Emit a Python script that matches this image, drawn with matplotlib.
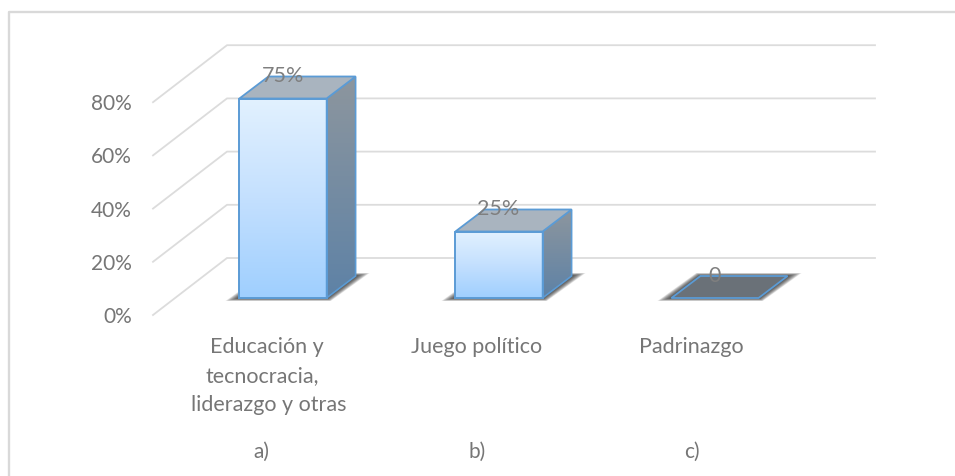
import numpy as np
import matplotlib
matplotlib.use("Agg")
import matplotlib.pyplot as plt
from matplotlib.patches import Polygon
from matplotlib.colors import LinearSegmentedColormap

categories = [["Educación y", "tecnocracia,", "liderazgo y otras"], ["Juego político"], ["Padrinazgo"]]
letters = ["a)", "b)", "c)"]
values = [75, 25, 0]
value_labels = ["75%", "25%", "0"]
y_ticks = [0, 20, 40, 60, 80]

PX_CAT, PX_PCT = 216.0, 2.66
X0, Y0 = 283.0, 299.0
W, H = 955, 477

plt.rcParams['font.family'] = ['Lato', 'DejaVu Sans']
fig = plt.figure(figsize=(W/100, H/100), dpi=100)
ax = fig.add_axes([0, 0, 1, 1])
ax.axis('off')

def px(dx, dy):
    return dx/PX_CAT, dy/PX_PCT

GRID = '#dcdcdc'
TXT = '#767676'
EDGE = '#5b9bd5'
FS = 15
fx = lambda p: (p-X0)/PX_CAT
fy = lambda p: (Y0-p)/PX_PCT
# outer frame
ax.plot([fx(9), fx(9), fx(955)], [fy(477), fy(12.5), fy(12.5)], color='#d9d9d9', lw=1.7, zorder=1)

# walls
for t in y_ticks:
    ax.plot([fx(153), fx(227), fx(875)], [fy(316)+t, fy(259)+t, fy(259)+t], color=GRID, lw=1.3, zorder=2)
    ax.text(fx(132), fy(317)+t, f"{t}%", ha='right', va='center', fontsize=FS, color=TXT, zorder=8)

half = 43.6/PX_CAT
ddx, ddy = px(29, 22)
front_cm = LinearSegmentedColormap.from_list('f', ['#e2f1ff', '#c4e0fe', '#9fcfff'])
side_cm = LinearSegmentedColormap.from_list('s', ['#8d969e', '#5e82a6'])

for i, v in enumerate(values):
    xl, xr = i-half, i+half
    # soft floor shadow
    sx1, sy1 = px(14, 3)
    n = 14
    for k in range(n, 0, -1):
        g = k/n
        ex, ey = sx1*g, sy1*g
        ax.add_patch(Polygon([(xl-ex, -ey), (xr+ex*.3, -ey), (xr+ddx+ex, ddy+ey), (xl+ddx-ex*.3, ddy+ey)],
                             closed=True, fc='#202020', ec='none', alpha=0.09, zorder=3))
    if v > 0:
        ax.imshow(np.linspace(0, 1, 128).reshape(-1, 1), extent=(xl, xr, 0, v), origin='upper',
                  cmap=front_cm, aspect='auto', zorder=4)
        ax.add_patch(Polygon([(xl, 0), (xr, 0), (xr, v), (xl, v)], closed=True, fc='none', ec=EDGE, lw=1.4, zorder=6))
        side = Polygon([(xr, 0), (xr+ddx, ddy), (xr+ddx, v+ddy), (xr, v)], closed=True, fc='none', ec='none', zorder=4)
        ax.add_patch(side)
        im2 = ax.imshow(np.linspace(0, 1, 128).reshape(-1, 1), extent=(xr, xr+ddx, 0, v+ddy), origin='upper',
                        cmap=side_cm, aspect='auto', zorder=4)
        im2.set_clip_path(side)
        ax.add_patch(Polygon([(xr, 0), (xr+ddx, ddy), (xr+ddx, v+ddy), (xr, v)], closed=True, fc='none', ec=EDGE, lw=1.2, zorder=5))
        top = '#a9b4bf'
    else:
        top = '#6a7178'
    ax.add_patch(Polygon([(xl, v), (xr, v), (xr+ddx, v+ddy), (xl+ddx, v+ddy)], closed=True, fc=top, ec=EDGE, lw=1.3, zorder=5))
    ax.text(i-0.002, v+ddy+0.4, value_labels[i], ha='center', va='center', fontsize=FS+0.5, color='#7f7f7f', zorder=9)

# category labels, drawn line by line
label_x = [[267, 262, 269], [477], [691]]
label_y = [347, 376, 405]
for i, lines in enumerate(categories):
    for j, line in enumerate(lines):
        ax.text(fx(label_x[i][j]), fy(label_y[j]), line, ha='center', va='center', fontsize=FS+0.5, color=TXT, zorder=8)
    ax.text(fx([261, 477, 692][i]), fy(452), letters[i], ha='center', va='center', fontsize=FS, color=TXT, zorder=8)

ax.set_xlim(-X0/PX_CAT, (W-X0)/PX_CAT)
ax.set_ylim((Y0-H)/PX_PCT, Y0/PX_PCT)
fig.savefig('out.png', dpi=100)
